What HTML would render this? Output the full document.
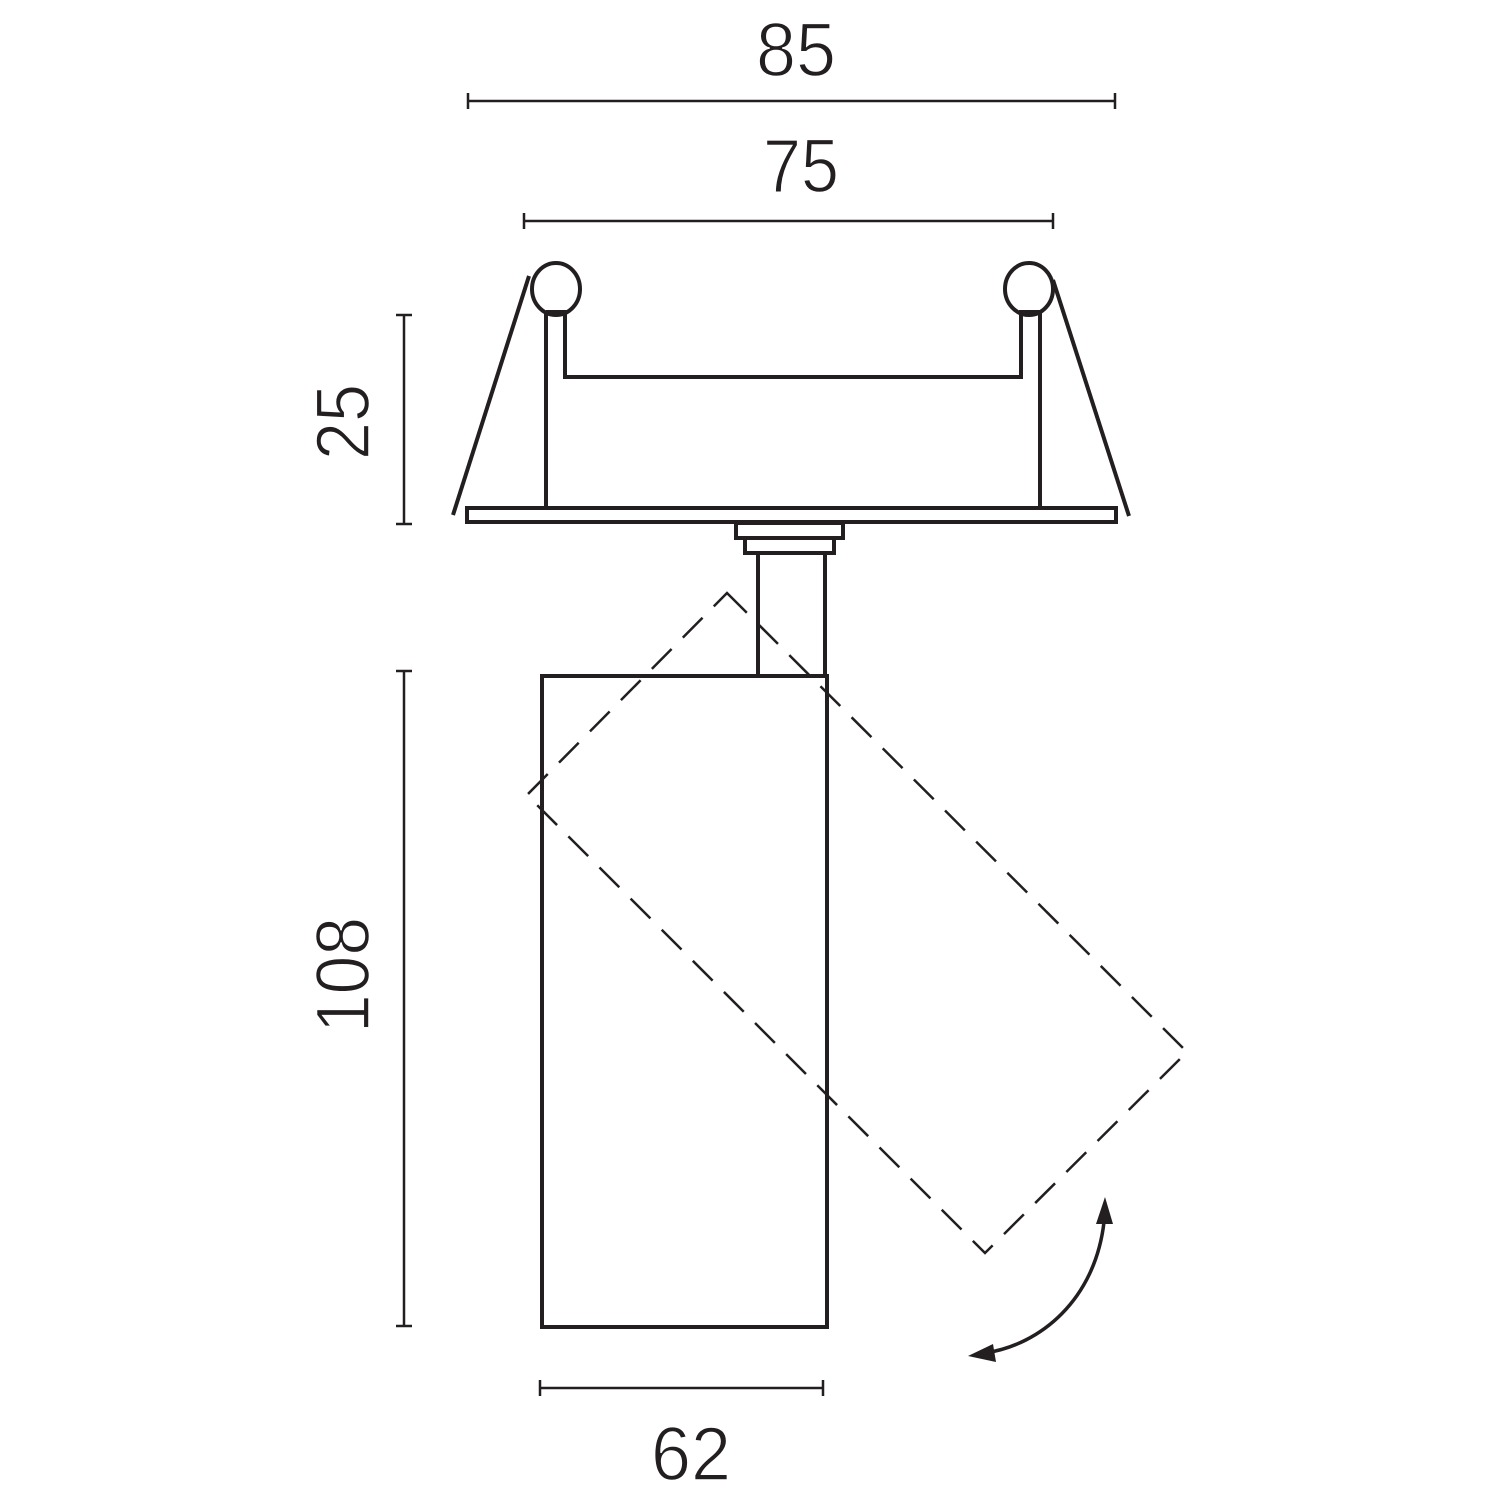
<!DOCTYPE html>
<html><head><meta charset="utf-8"><style>
html,body{margin:0;padding:0;background:#fff;}
svg{display:block;}
text{font-family:"Liberation Sans",sans-serif;fill:#231f20;stroke:#fff;stroke-width:1.5;paint-order:fill;}
</style></head><body>
<svg width="1500" height="1500" viewBox="0 0 1500 1500" xmlns="http://www.w3.org/2000/svg">
<g stroke="#231f20" fill="none" stroke-linecap="butt">
<line x1="468" y1="101" x2="1115" y2="101" stroke-width="2.5"/>
<line x1="468" y1="93" x2="468" y2="109" stroke-width="2.5"/>
<line x1="1115" y1="93" x2="1115" y2="109" stroke-width="2.5"/>
<line x1="524" y1="221" x2="1053" y2="221" stroke-width="2.5"/>
<line x1="524" y1="213" x2="524" y2="229" stroke-width="2.5"/>
<line x1="1053" y1="213" x2="1053" y2="229" stroke-width="2.5"/>
<line x1="404" y1="315" x2="404" y2="524" stroke-width="2.5"/>
<line x1="396" y1="315" x2="412" y2="315" stroke-width="2.5"/>
<line x1="396" y1="524" x2="412" y2="524" stroke-width="2.5"/>
<line x1="404" y1="671" x2="404" y2="1326" stroke-width="2.5"/>
<line x1="396" y1="671" x2="412" y2="671" stroke-width="2.5"/>
<line x1="396" y1="1326" x2="412" y2="1326" stroke-width="2.5"/>
<line x1="540" y1="1388" x2="823" y2="1388" stroke-width="2.5"/>
<line x1="540" y1="1380" x2="540" y2="1396" stroke-width="2.5"/>
<line x1="823" y1="1380" x2="823" y2="1396" stroke-width="2.5"/>
<line x1="529" y1="276" x2="453" y2="515" stroke-width="4"/>
<line x1="1053" y1="280" x2="1129" y2="516" stroke-width="4"/>
<ellipse cx="556" cy="289" rx="24" ry="26" stroke-width="4" fill="#fff"/>
<ellipse cx="1029" cy="289" rx="24" ry="26" stroke-width="4" fill="#fff"/>
<line x1="546" y1="312" x2="546" y2="510" stroke-width="4"/>
<line x1="1040" y1="312" x2="1040" y2="510" stroke-width="4"/>
<polyline points="546,312 565,312 565,377 1021,377 1021,312 1040,312" stroke-width="4"/>
<rect x="467" y="508" width="649" height="14" stroke-width="4" fill="#fff"/>
<rect x="736" y="523" width="107" height="15" stroke-width="4"/>
<rect x="745" y="538" width="89" height="15" stroke-width="4"/>
<line x1="758" y1="553" x2="758" y2="676" stroke-width="4"/>
<line x1="825" y1="553" x2="825" y2="676" stroke-width="4"/>
<rect x="542" y="676" width="285" height="651" stroke-width="4"/>
<polygon points="727,593 1187,1052 985,1253 527,795" stroke-width="2.5" stroke-dasharray="28,16"/>
<path d="M1104,1222 C1095,1300 1040,1345 985,1353" stroke-width="3.5"/>
</g>
<polygon points="1105,1197 1096,1224 1113,1224" fill="#231f20"/>
<polygon points="968,1356 993,1344 996,1362" fill="#231f20"/>
<text x="796" y="76" font-size="76" text-anchor="middle" textLength="80" lengthAdjust="spacingAndGlyphs">85</text>
<text x="801" y="192" font-size="76" text-anchor="middle" textLength="76" lengthAdjust="spacingAndGlyphs">75</text>
<text x="691" y="1480" font-size="76" text-anchor="middle" textLength="80" lengthAdjust="spacingAndGlyphs">62</text>
<text transform="translate(369,422) rotate(-90)" font-size="76" text-anchor="middle" textLength="76" lengthAdjust="spacingAndGlyphs">25</text>
<text transform="translate(369,975) rotate(-90)" font-size="76" text-anchor="middle" textLength="116" lengthAdjust="spacingAndGlyphs">108</text>
</svg>
</body></html>
